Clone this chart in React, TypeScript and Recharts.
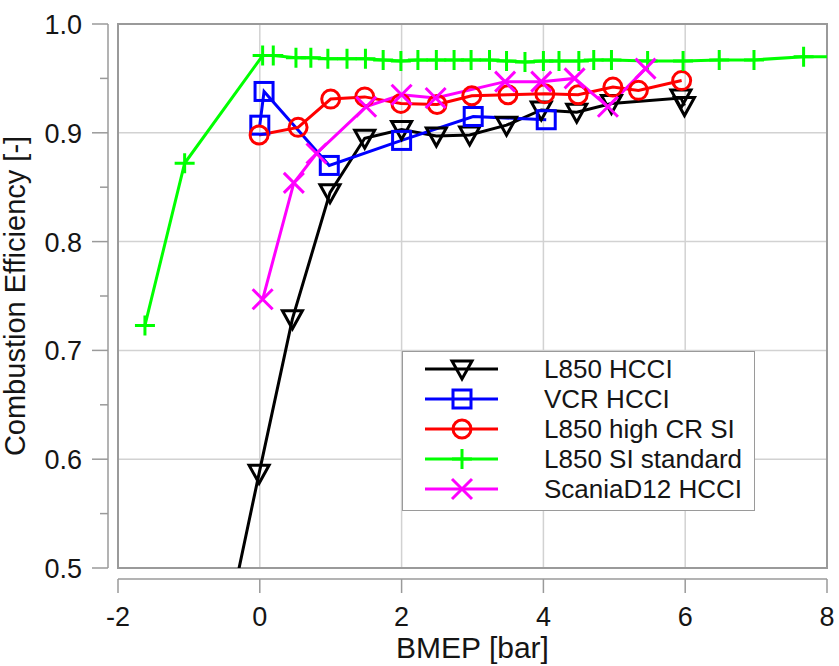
import { LineChart, Line, XAxis, YAxis, CartesianGrid, ReferenceArea, Legend, Label } from "recharts";

const FONT = "'Liberation Sans', Arial, sans-serif";
const TEXT = "#151515";
const AXIS = "#9a9a9a";
const GRID = "#d2d2d2";

const xTicks = [-2, 0, 2, 4, 6, 8];
const yTicks = [0.5, 0.55, 0.6, 0.65, 0.7, 0.75, 0.8, 0.85, 0.9, 0.95, 1.0];
const yMajor = [0.5, 0.6, 0.7, 0.8, 0.9, 1.0];
const yLabels = ["0.5", "0.6", "0.7", "0.8", "0.9", "1.0"];

// L850 HCCI (first point lies below the frame)
const l850HcciX = [-0.5, -0.01, 0.46, 0.99, 1.48, 2.0, 2.49, 2.96, 3.48, 3.97, 4.47, 4.96, 5.94, 5.99];
const l850HcciY = [0.436, 0.587, 0.729, 0.845, 0.895, 0.903, 0.897, 0.898, 0.907, 0.921, 0.919, 0.927, 0.932, 0.925];

// VCR HCCI
const vcrX = [0.0, 0.06, 0.98, 2.0, 3.01, 4.04];
const vcrY = [0.907, 0.938, 0.87, 0.893, 0.915, 0.912];

// L850 high CR SI
const highCrX = [-0.01, 0.54, 1.0, 1.48, 1.99, 2.5, 2.99, 3.5, 4.02, 4.49, 4.98, 5.34, 5.95];
const highCrY = [0.898, 0.905, 0.931, 0.933, 0.927, 0.926, 0.934, 0.935, 0.936, 0.935, 0.942, 0.939, 0.948];

// L850 SI standard (last point runs past the right edge)
const siStdX = [-1.62, -1.06, 0.04, 0.19, 0.51, 0.72, 0.96, 1.23, 1.49, 1.74, 1.99, 2.23, 2.49, 2.74, 2.98, 3.24, 3.48, 3.74, 4.0, 4.22, 4.5, 4.71, 4.96, 5.47, 5.97, 6.48, 6.97, 7.67, 8.3];
const siStdY = [0.723, 0.872, 0.971, 0.971, 0.969, 0.969, 0.968, 0.968, 0.968, 0.967, 0.966, 0.967, 0.967, 0.967, 0.967, 0.967, 0.966, 0.965, 0.966, 0.966, 0.966, 0.967, 0.967, 0.966, 0.966, 0.967, 0.967, 0.97, 0.97];

// ScaniaD12 HCCI
const scaniaX = [0.04, 0.48, 0.8, 1.5, 2.0, 2.48, 3.46, 3.97, 4.44, 4.91, 5.44];
const scaniaY = [0.747, 0.854, 0.881, 0.924, 0.935, 0.932, 0.947, 0.947, 0.95, 0.924, 0.959];

const toPoints = (xs: number[], ys: number[]) => xs.map((x, i) => ({ x, y: ys[i] }));

type Shape = "tri" | "square" | "circle" | "plus" | "cross";

const series: { name: string; color: string; shape: Shape; data: { x: number; y: number }[] }[] = [
  { name: "L850 HCCI", color: "#000000", shape: "tri", data: toPoints(l850HcciX, l850HcciY) },
  { name: "VCR HCCI", color: "#0000ff", shape: "square", data: toPoints(vcrX, vcrY) },
  { name: "L850 high CR SI", color: "#ff0000", shape: "circle", data: toPoints(highCrX, highCrY) },
  { name: "L850 SI standard", color: "#00ff00", shape: "plus", data: toPoints(siStdX, siStdY) },
  { name: "ScaniaD12 HCCI", color: "#ff00ff", shape: "cross", data: toPoints(scaniaX, scaniaY) },
];

function Marker({ shape, cx, cy, color }: { shape: Shape; cx: number; cy: number; color: string }) {
  const common = { stroke: color, strokeWidth: 3, fill: "none" };
  if (shape === "tri")
    return <polygon points={`${cx - 10},${cy - 8} ${cx + 10},${cy - 8} ${cx},${cy + 10}`} {...common} strokeLinejoin="miter" />;
  if (shape === "square") return <rect x={cx - 9} y={cy - 9} width={18} height={18} {...common} />;
  if (shape === "circle") return <circle cx={cx} cy={cy} r={9} {...common} />;
  if (shape === "plus")
    return <path d={`M${cx - 10},${cy}H${cx + 10}M${cx},${cy - 10}V${cy + 10}`} {...common} />;
  return <path d={`M${cx - 10},${cy - 10}L${cx + 10},${cy + 10}M${cx - 10},${cy + 10}L${cx + 10},${cy - 10}`} {...common} />;
}

function YTick(props: any) {
  const { x, y, payload } = props;
  const idx = yMajor.findIndex((v) => Math.abs(v - payload.value) < 1e-6);
  const major = idx >= 0;
  return (
    <g>
      <line x1={x - (major ? 16 : 8)} x2={x} y1={y} y2={y} stroke={AXIS} strokeWidth={1.5} />
      {major && (
        <text x={x - 26} y={y + 10} textAnchor="end" fontSize={27} fontFamily={FONT} fill={TEXT}>
          {yLabels[idx]}
        </text>
      )}
    </g>
  );
}

function XTick(props: any) {
  const { x, y, payload } = props;
  return (
    <g>
      <line x1={x} x2={x} y1={y} y2={y + 14} stroke={AXIS} strokeWidth={1.5} />
      <text x={x} y={y + 47} textAnchor="middle" fontSize={27} fontFamily={FONT} fill={TEXT}>
        {payload.value}
      </text>
    </g>
  );
}

function LegendBox() {
  return (
    <div
      style={{
        width: 353,
        height: 160,
        boxSizing: "border-box",
        border: `1.5px solid ${AXIS}`,
        background: "#fff",
        paddingTop: 2,
      }}
    >
      {series.map((s) => (
        <div key={s.name} style={{ display: "flex", alignItems: "center", height: 30 }}>
          <svg width={141} height={30} style={{ flex: "none" }}>
            <line x1={22} x2={95} y1={15} y2={15} stroke={s.color} strokeWidth={3} />
            <Marker shape={s.shape} cx={59} cy={15} color={s.color} />
          </svg>
          <span style={{ fontFamily: FONT, fontSize: 26, color: TEXT, lineHeight: "30px", whiteSpace: "nowrap" }}>
            {s.name}
          </span>
        </div>
      ))}
    </div>
  );
}

export default function App() {
  return (
    <div style={{ position: "absolute", left: 0, top: 0, width: 839, height: 666, background: "#fff" }}>
      <LineChart width={839} height={666} margin={{ top: 24, right: 12, bottom: 0, left: 0 }}>
        <XAxis xAxisId="pad" type="number" domain={[-2, 8]} height={11} tick={false} tickLine={false} axisLine={false} />
        <YAxis yAxisId="pad" type="number" domain={[0.5, 1]} width={10} tick={false} tickLine={false} axisLine={false} />
        <XAxis
          xAxisId="x"
          type="number"
          dataKey="x"
          domain={[-2, 8]}
          ticks={xTicks}
          interval={0}
          allowDataOverflow
          height={87}
          tickSize={0}
          tickMargin={0}
          tickLine={false}
          axisLine={{ stroke: AXIS, strokeWidth: 1.5 }}
          tick={<XTick />}
        >
          <Label value="BMEP [bar]" position="insideBottom" offset={8} style={{ fontSize: 30, fill: TEXT, fontFamily: FONT }} />
        </XAxis>
        <YAxis
          yAxisId="y"
          type="number"
          domain={[0.5, 1]}
          ticks={yTicks}
          interval={0}
          allowDataOverflow
          width={108}
          tickSize={0}
          tickMargin={0}
          tickLine={false}
          axisLine={{ stroke: AXIS, strokeWidth: 1.5 }}
          tick={<YTick />}
        >
          <Label
            content={(p: any) => {
              const vb = p.viewBox;
              const cx = vb.x + 25;
              const cy = vb.y + vb.height / 2;
              return (
                <text
                  x={cx}
                  y={cy}
                  transform={`rotate(-90 ${cx} ${cy})`}
                  textAnchor="middle"
                  fontSize={29}
                  fontFamily={FONT}
                  fill={TEXT}
                >
                  Combustion Efficiency [-]
                </text>
              );
            }}
          />
        </YAxis>
        <CartesianGrid
          xAxisId="x"
          yAxisId="y"
          stroke={GRID}
          strokeWidth={1.5}
          verticalValues={xTicks}
          horizontalValues={yMajor}
        />
        <ReferenceArea xAxisId="x" yAxisId="y" x1={-2} x2={8} y1={0.5} y2={1} fill="none" stroke={AXIS} strokeWidth={2} />
        {series.map((s) => (
          <Line
            key={s.name}
            xAxisId="x"
            yAxisId="y"
            data={s.data}
            dataKey="y"
            name={s.name}
            type="linear"
            stroke={s.color}
            strokeWidth={3}
            isAnimationActive={false}
            activeDot={false}
            dot={(p: any) => {
              const out = p.payload.x > 8 || p.payload.y < 0.5;
              return (
                <g key={`${s.name}-${p.index}`}>
                  {!out && <Marker shape={s.shape} cx={p.cx} cy={p.cy} color={s.color} />}
                </g>
              );
            }}
          />
        ))}
        <Legend
          layout="vertical"
          align="center"
          verticalAlign="middle"
          wrapperStyle={{ left: 402, top: 351, width: 353, height: 160 }}
          content={() => <LegendBox />}
        />
      </LineChart>
    </div>
  );
}
